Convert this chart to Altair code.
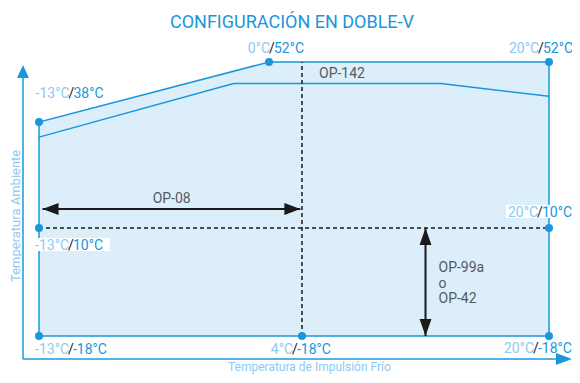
import altair as alt
import pandas as pd

# ---------------- data ----------------
TITLE = "CONFIGURACIÓN EN DOBLE-V"
X_TITLE = "Temperatura de Impulsión Frío"
Y_TITLE = "Temperatura Ambiente"

x_ticks = [-13, 0, 4, 20]          # impulsión (°C) break points
y_ticks = [-18, 10, 38, 52]        # ambiente (°C) break points

env_top_x = [-13, 0, 20]           # upper envelope
env_top_y = [38, 52, 52]
env_floor = -18

outline_x = [-13, -13, 0, 20, 20, -13]
outline_y = [-18, 38, 52, 52, -18, -18]

op142_x = [-13, -2, 13, 20]        # lower limit of OP-142 band
op142_y = [34, 47, 47, 44]

pt_x = [-13, 0, 20, -13, 20, -13, 4, 20]
pt_y = [38, 52, 52, 10, 10, -18, -18, -18]

div_x = 4                           # vertical divider
div_y = 10                          # horizontal divider

op08_x = [-12.8, 3.8]
op08_y = 15
op99_x = 12
op99_y = [10, -18]

op_labels = ["OP-142", "OP-08", "OP-99a", "o", "OP-42"]

# ---------------- style ----------------
BLUE = "#1b96dc"
LIGHT = "#8ccaf0"
FILL = "#ddeefb"
DARK = "#1a1a1a"
GRAY = "#555a5e"
FONT = "Roboto"

X = alt.Scale(domain=x_ticks, range=[31, 261, 294, 541], zero=False, nice=False)
Y = alt.Scale(domain=y_ticks, range=[328, 220, 114, 54], zero=False, nice=False)


def xe(f="x"):
    return alt.X(f"{f}:Q", scale=X, axis=None)


def ye(f="y"):
    return alt.Y(f"{f}:Q", scale=Y, axis=None)


layers = []

# envelope fill
df_area = pd.DataFrame({"x": env_top_x, "y": env_top_y, "y2": [env_floor] * len(env_top_x)})
layers.append(alt.Chart(df_area).mark_area(color=FILL, opacity=1).encode(x=xe(), y=ye(), y2="y2:Q"))

# outline
df_out = pd.DataFrame({"x": outline_x, "y": outline_y, "o": list(range(len(outline_x)))})
layers.append(alt.Chart(df_out).mark_line(color=BLUE, strokeWidth=1.5).encode(x=xe(), y=ye(), order="o:Q"))

# OP-142 lower line
df_in = pd.DataFrame({"x": op142_x, "y": op142_y, "o": list(range(len(op142_x)))})
layers.append(alt.Chart(df_in).mark_line(color=BLUE, strokeWidth=1.5).encode(x=xe(), y=ye(), order="o:Q"))

# dashed dividers
df_v = pd.DataFrame({"x": [div_x], "y": [env_floor], "y2": [max(outline_y)]})
layers.append(alt.Chart(df_v).mark_rule(color=DARK, strokeWidth=1.5, strokeDash=[4, 3]).encode(x=xe(), y=ye(), y2="y2:Q"))
df_h = pd.DataFrame({"x": [min(outline_x)], "x2": [max(outline_x)], "y": [div_y]})
layers.append(alt.Chart(df_h).mark_rule(color=DARK, strokeWidth=1.5, strokeDash=[4, 3]).encode(x=xe(), x2="x2:Q", y=ye()))

# OP-08 arrow
df_a1 = pd.DataFrame({"x": [op08_x[0]], "x2": [op08_x[1]], "y": [op08_y]})
layers.append(alt.Chart(df_a1).mark_rule(color=DARK, strokeWidth=2).encode(x=xe(), x2="x2:Q", y=ye()))
HEAD_L = "M0,0L2,-0.75L2,0.75Z"
HEAD_R = "M0,0L-2,-0.75L-2,0.75Z"
HEAD_U = "M0,0L-0.7,2L0.7,2Z"
HEAD_D = "M0,0L-0.7,-2L0.7,-2Z"
for hx, shp in [(op08_x[0], HEAD_L), (op08_x[1], HEAD_R)]:
    layers.append(alt.Chart(pd.DataFrame({"x": [hx], "y": [op08_y]})).mark_point(
        shape=shp, size=256, filled=True, color=DARK, opacity=1, strokeWidth=0).encode(x=xe(), y=ye()))

# OP-99a arrow
df_a2 = pd.DataFrame({"x": [op99_x], "y": [op99_y[0]], "y2": [op99_y[1]]})
layers.append(alt.Chart(df_a2).mark_rule(color=DARK, strokeWidth=2).encode(x=xe(), y=ye(), y2="y2:Q"))
for hy, shp in [(op99_y[0], HEAD_U), (op99_y[1], HEAD_D)]:
    layers.append(alt.Chart(pd.DataFrame({"x": [op99_x], "y": [hy]})).mark_point(
        shape=shp, size=289, filled=True, color=DARK, opacity=1, strokeWidth=0).encode(x=xe(), y=ye()))

# corner dots
df_pts = pd.DataFrame({"x": pt_x, "y": pt_y})
layers.append(alt.Chart(df_pts).mark_circle(size=64, color=BLUE, opacity=1).encode(x=xe(), y=ye()))

# corner label placement (slash offset from its point, pixels)
offs = [(32.5, -24), (3, -9), (-8, -9), (32, 22), (-9, -11), (32, 18), (-7, 18), (-13, 17)]

# white label backgrounds
for idx, (x0, x1, y0, y1) in [(3, (-7, 71, 10, 23)), (4, (-43, 24, -23, -10))]:
    d = pd.DataFrame({"x": [pt_x[idx]], "y": [pt_y[idx]]})
    layers.append(alt.Chart(d).mark_rect(color="white", opacity=1, xOffset=x0, x2Offset=x1,
                                         yOffset=y0, y2Offset=y1).encode(
        x=xe(), x2="x:Q", y=ye(), y2="y:Q"))

# corner labels (impulsión / ambiente)
for i, (dx, dy) in enumerate(offs):
    d = pd.DataFrame({"x": [pt_x[i]], "y": [pt_y[i]],
                      "a": [f"{pt_x[i]}°C"], "s": ["/"], "b": [f"{pt_y[i]}°C"]})
    base = alt.Chart(d)
    layers.append(base.mark_text(font=FONT, fontSize=14, color=LIGHT, align="right",
                                 baseline="alphabetic", dx=dx - 2, dy=dy).encode(x=xe(), y=ye(), text="a:N"))
    layers.append(base.mark_text(font=FONT, fontSize=14, color=DARK, align="center",
                                 baseline="alphabetic", dx=dx, dy=dy).encode(x=xe(), y=ye(), text="s:N"))
    layers.append(base.mark_text(font=FONT, fontSize=14, color=BLUE, align="left",
                                 baseline="alphabetic", dx=dx + 2, dy=dy).encode(x=xe(), y=ye(), text="b:N"))

# zone labels
zone = [
    (op_labels[0], div_x, max(outline_y), "left", 17, 16),
    (op_labels[1], -5.5, op08_y, "center", 0, -6),
    (op_labels[2], op99_x, env_floor, "left", 13, -64),
    (op_labels[3], op99_x, env_floor, "left", 13, -48),
    (op_labels[4], op99_x, env_floor, "left", 13, -33),
]
for t, zx, zy, al, dx, dy in zone:
    d = pd.DataFrame({"x": [zx], "y": [zy], "t": [t]})
    layers.append(alt.Chart(d).mark_text(font=FONT, fontSize=14, color=GRAY, align=al,
                                         baseline="alphabetic", dx=dx, dy=dy).encode(
        x=xe(), y=ye(), text="t:N"))

# frame axes (decoration)
one = pd.DataFrame({"k": [0]})
layers.append(alt.Chart(one).mark_rule(color=BLUE, strokeWidth=1.5).encode(
    x=alt.value(15), y=alt.value(68), y2=alt.value(351)))
layers.append(alt.Chart(one).mark_rule(color=BLUE, strokeWidth=1.5).encode(
    x=alt.value(15), x2=alt.value(552), y=alt.value(351)))
layers.append(alt.Chart(one).mark_point(shape="M0,0L-0.92,2L0.92,2Z", size=169, filled=True,
                                        color=BLUE, opacity=1, strokeWidth=0).encode(
    x=alt.value(15), y=alt.value(57)))
layers.append(alt.Chart(one).mark_point(shape="M0,0L-2,-0.75L-2,0.75Z", size=256, filled=True,
                                        color=BLUE, opacity=1, strokeWidth=0).encode(
    x=alt.value(564), y=alt.value(351)))

# titles
layers.append(alt.Chart(one).mark_text(font=FONT, fontSize=18, color=BLUE, align="center",
                                       baseline="alphabetic").encode(
    x=alt.value(284), y=alt.value(20), text=alt.value(TITLE)))
layers.append(alt.Chart(one).mark_text(font=FONT, fontSize=12, color=LIGHT, align="left",
                                       baseline="alphabetic").encode(
    x=alt.value(220), y=alt.value(363), text=alt.value(X_TITLE)))
layers.append(alt.Chart(one).mark_text(font=FONT, fontSize=13, color=LIGHT, align="left",
                                       baseline="middle", angle=270).encode(
    x=alt.value(8), y=alt.value(274), text=alt.value(Y_TITLE)))

chart = alt.layer(*layers).properties(
    width=564, height=367, padding=0,
    autosize=alt.AutoSizeParams(type="none"),
).configure_view(stroke=None)

chart.save("out.html", embed_options={"renderer": "svg", "actions": False})
